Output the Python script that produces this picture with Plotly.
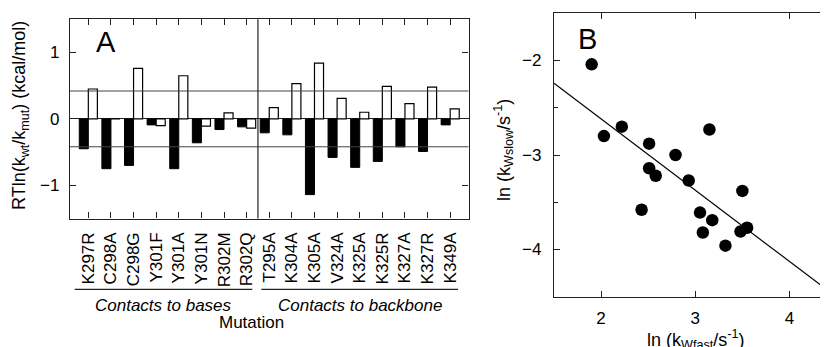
import plotly.graph_objects as go
import numpy as np

# ---------------- data ----------------
base_mutations = ["K297R", "C298A", "C298G", "Y301F", "Y301A", "Y301N", "R302M", "R302Q"]
backbone_mutations = ["T295A", "K304A", "K305A", "V324A", "K325A", "K325R", "K327A", "K327R", "K349A"]
mutations = base_mutations + backbone_mutations

filled_values = [-0.45, -0.75, -0.70, -0.09, -0.75, -0.36, -0.16, -0.12,
                 -0.21, -0.24, -1.14, -0.58, -0.73, -0.64, -0.42, -0.49, -0.09]
open_values = [0.45, 0.0, 0.76, -0.10, 0.65, -0.11, 0.09, -0.14,
               0.17, 0.53, 0.84, 0.31, 0.10, 0.49, 0.23, 0.48, 0.15]
threshold = 0.42

ln_k_fast = [1.90, 2.03, 2.22, 2.51, 2.51, 2.58, 2.43, 2.79, 2.93,
             3.15, 3.05, 3.08, 3.18, 3.32, 3.50, 3.48, 3.55]
ln_k_slow = [-2.04, -2.80, -2.70, -2.88, -3.14, -3.22, -3.58, -3.00, -3.27,
             -2.73, -3.61, -3.82, -3.69, -3.96, -3.38, -3.81, -3.77]
fit_slope = -0.755
fit_intercept = -1.107

group_labels = ["Contacts to bases", "Contacts to backbone"]

# ---------------- figure ----------------
W, H = 828, 347
OFF = 8  # page body margin
FONT = "Liberation Sans, Arial, sans-serif"
LC = "#222222"

def px_x(p):
    return (p - OFF) / W

def px_y(p):
    return 1 - (p - OFF) / H

fig = go.Figure()

fig.add_trace(go.Bar(x=mutations, y=filled_values, marker=dict(color="black", line=dict(color="black", width=1)),
                     xaxis="x", yaxis="y", name="filled"))
fig.add_trace(go.Bar(x=mutations, y=open_values, marker=dict(color="white", line=dict(color="black", width=1.2)),
                     xaxis="x", yaxis="y", name="open"))

xB_range = [1.5, 4.43]
x_fit = np.array(xB_range)
y_fit = fit_intercept + fit_slope * x_fit
fig.add_trace(go.Scatter(x=x_fit, y=y_fit, mode="lines", line=dict(color="black", width=1.2),
                         xaxis="x2", yaxis="y2"))
fig.add_trace(go.Scatter(x=ln_k_fast, y=ln_k_slow, mode="markers",
                         marker=dict(color="black", size=12.5, line=dict(width=0)),
                         xaxis="x2", yaxis="y2"))

axis_common = dict(showline=True, linecolor=LC, linewidth=1.2, mirror="ticks", ticks="inside",
                   tickcolor=LC, tickwidth=1.2, ticklen=6, showgrid=False,
                   tickfont=dict(family=FONT, size=17, color="black"))

fig.update_layout(
    width=W, height=H, margin=dict(l=0, r=0, t=0, b=0),
    paper_bgcolor="white", plot_bgcolor="white", showlegend=False,
    barmode="group", bargap=0.2, bargroupgap=0.0,
    font=dict(family=FONT, color="black"),
    xaxis=dict(axis_common, domain=[px_x(70), px_x(468.5)], anchor="y",
               type="category", categoryorder="array", categoryarray=mutations,
               range=[-0.81, len(mutations) - 1 + 0.81], tickangle=-90, ticklabelstandoff=6),
    yaxis=dict(axis_common, domain=[px_y(218.5), px_y(19.3)], anchor="x",
               range=[-1.5, 1.5], tickvals=[-1, 0, 1], ticktext=["\u22121", "0", "1"],
               zeroline=True, zerolinecolor=LC, zerolinewidth=1.2, ticklabelstandoff=6),
    xaxis2=dict(axis_common, domain=[px_x(554), px_x(830)], anchor="y2",
                range=xB_range, tickvals=[2, 3, 4], zeroline=False, ticklabelstandoff=6),
    yaxis2=dict(axis_common, domain=[px_y(296.7), px_y(13.3)], anchor="x2",
                range=[-4.5, -1.5], tickvals=[-4, -3, -2], ticktext=["\u22124", "\u22123", "\u22122"],
                zeroline=False, ticklabelstandoff=8,
                minor=dict(tickvals=[-3.5, -2.5], ticks="inside", ticklen=4, tickcolor=LC, tickwidth=1.2)),
)

# threshold lines and divider in panel A
for v in (threshold, -threshold):
    fig.add_shape(type="line", xref="x domain", yref="y", x0=0, x1=1, y0=v, y1=v,
                  line=dict(color="#444444", width=1))
divider = len(base_mutations) - 0.5
fig.add_shape(type="line", xref="x", yref="y domain", x0=divider, x1=divider, y0=0, y1=1,
              line=dict(color=LC, width=1.2))

# group underlines and labels
n0 = len(base_mutations)
groups = [(-0.6, n0 - 0.75), (n0 - 0.35, len(mutations) - 0.65)]
for (a, b), lab in zip(groups, group_labels):
    fig.add_shape(type="line", xref="x", yref="paper", x0=a, x1=b, y0=px_y(289.3), y1=px_y(289.3),
                  line=dict(color=LC, width=1.2))
    fig.add_annotation(xref="x", yref="paper", x=(a + b) / 2, y=px_y(305), text="<i>" + lab + "</i>",
                       showarrow=False, font=dict(family=FONT, size=17, color="black"),
                       xanchor="center", yanchor="middle")

fig.add_annotation(xref="paper", yref="paper", x=px_x(251), y=px_y(322.5), text="Mutation",
                   showarrow=False, font=dict(family=FONT, size=17, color="black"),
                   xanchor="center", yanchor="middle")

# axis titles
fig.add_annotation(xref="paper", yref="paper", x=px_x(20), y=px_y(116),
                   text="RTln(k<sub>wt</sub>/k<sub>mut</sub>) (kcal/mol)", textangle=-90,
                   showarrow=False, font=dict(family=FONT, size=18, color="black"),
                   xanchor="center", yanchor="middle")
fig.add_annotation(xref="paper", yref="paper", x=px_x(503), y=px_y(150),
                   text="ln (k<sub>Wslow</sub>/s<sup>-1</sup>)", textangle=-90,
                   showarrow=False, font=dict(family=FONT, size=18, color="black"),
                   xanchor="center", yanchor="middle")
fig.add_annotation(xref="paper", yref="paper", x=px_x(695), y=px_y(339),
                   text="ln (k<sub>Wfast</sub>/s<sup>-1</sup>)",
                   showarrow=False, font=dict(family=FONT, size=18, color="black"),
                   xanchor="center", yanchor="middle")

# panel letters
fig.add_annotation(xref="paper", yref="paper", x=px_x(94), y=px_y(42), text="A",
                   showarrow=False, font=dict(family=FONT, size=29, color="black"),
                   xanchor="left", yanchor="middle")
fig.add_annotation(xref="paper", yref="paper", x=px_x(576), y=px_y(39), text="B",
                   showarrow=False, font=dict(family=FONT, size=29, color="black"),
                   xanchor="left", yanchor="middle")

fig.write_html("out.html")
